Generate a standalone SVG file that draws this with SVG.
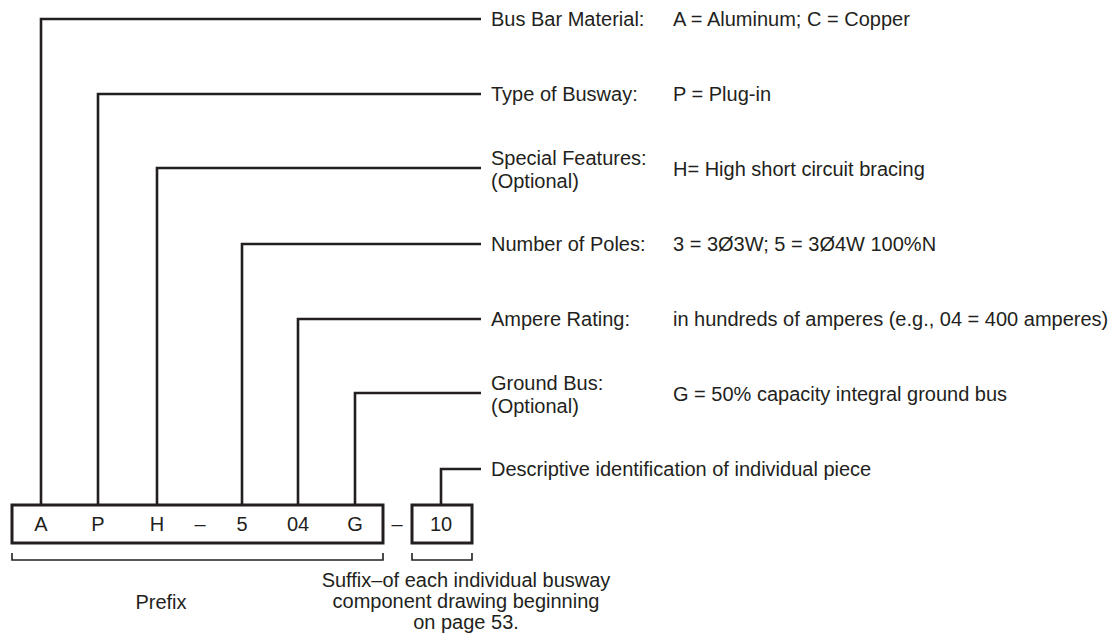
<svg xmlns="http://www.w3.org/2000/svg" width="1119" height="639" viewBox="0 0 1119 639">
<style>
text{font-family:"Liberation Sans",Arial,sans-serif;font-size:20px;fill:#231f20}
.c{text-anchor:middle}
.ld{fill:none;stroke:#231f20;stroke-width:2.6}
.bx{fill:#fff;stroke:#231f20;stroke-width:3}
.br{fill:none;stroke:#231f20;stroke-width:1.6}
</style>
<rect width="1119" height="639" fill="#fff"/>
<g id="connectors">
<path class="ld" d="M41,505V19H481"/>
<path class="ld" d="M98,505V94H481"/>
<path class="ld" d="M157,505V168H481"/>
<path class="ld" d="M242,505V244H481"/>
<path class="ld" d="M298,505V319H481"/>
<path class="ld" d="M355,505V393H481"/>
<path class="ld" d="M441,505V469H481"/>
</g>
<g id="code-box">
<rect class="bx" x="12" y="505" width="371" height="38"/>
<text class="c" x="41" y="531">A</text>
<text class="c" x="98" y="531">P</text>
<text class="c" x="157" y="531">H</text>
<text class="c" x="200" y="531">–</text>
<text class="c" x="242" y="531">5</text>
<text class="c" x="298" y="531">04</text>
<text class="c" x="355" y="531">G</text>
</g>
<g id="dash"><text class="c" x="397" y="531">–</text></g>
<g id="suffix-box">
<rect class="bx" x="412" y="505" width="60" height="38"/>
<text class="c" x="441" y="531">10</text>
</g>
<g id="prefix-bracket">
<path class="br" d="M12,553V560H383V553"/>
<text class="c" x="161" y="609">Prefix</text>
</g>
<g id="suffix-bracket">
<path class="br" d="M412,553V560H472V553"/>
<text class="c" x="466" y="587">Suffix–of each individual busway</text>
<text class="c" x="466" y="608">component drawing beginning</text>
<text class="c" x="466" y="629">on page 53.</text>
</g>
<g id="bus-bar">
<text x="491" y="26">Bus Bar Material:</text>
<text x="673" y="26">A = Aluminum; C = Copper</text>
</g>
<g id="type">
<text x="491" y="101">Type of Busway:</text>
<text x="673" y="101">P = Plug-in</text>
</g>
<g id="special">
<text x="491" y="165">Special Features:</text>
<text x="491" y="188">(Optional)</text>
<text x="673" y="176">H= High short circuit bracing</text>
</g>
<g id="poles">
<text x="491" y="251">Number of Poles:</text>
<text x="673" y="251">3 = 3Ø3W; 5 = 3Ø4W 100%N</text>
</g>
<g id="ampere">
<text x="491" y="326">Ampere Rating:</text>
<text x="673" y="326">in hundreds of amperes (e.g., 04 = 400 amperes)</text>
</g>
<g id="ground">
<text x="491" y="390">Ground Bus:</text>
<text x="491" y="413">(Optional)</text>
<text x="673" y="401">G = 50% capacity integral ground bus</text>
</g>
<g id="descriptive">
<text x="491" y="476">Descriptive identification of individual piece</text>
</g>
</svg>
